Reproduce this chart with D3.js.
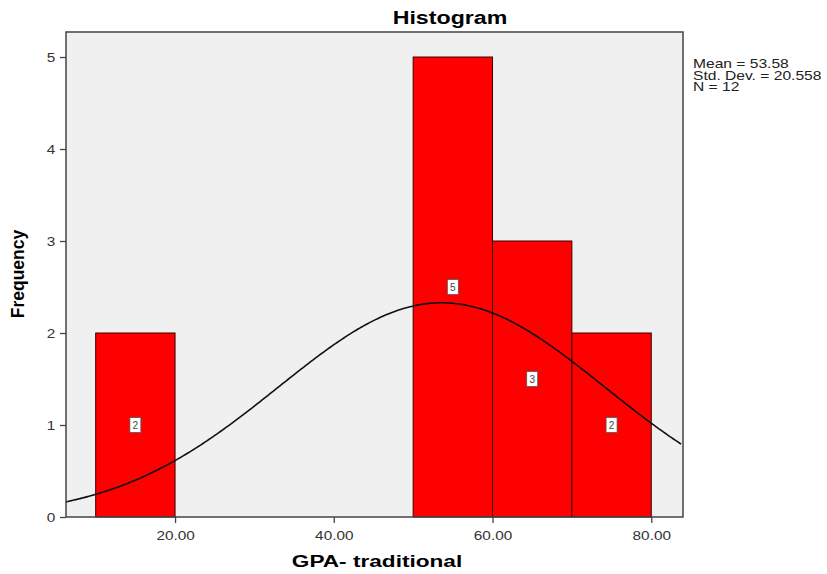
<!DOCTYPE html>
<html>
<head>
<meta charset="utf-8">
<script src="https://cdn.jsdelivr.net/npm/d3@7"></script>
<style>
  body { margin: 0; background: #fff; }
  text { font-family: "Liberation Sans", Arial, sans-serif; }
</style>
</head>
<body>
<div id="chart"></div>
<script>
// histogram bins and counts
const binStarts = [10, 50, 60, 70];
const binWidth = 10;
const counts = [2, 5, 3, 2];
const xTicks = [20, 40, 60, 80];
const yTicks = [0, 1, 2, 3, 4, 5];
const statLines = ['Mean = 53.58', 'Std. Dev. = 20.558', 'N = 12'];
const mean = 53.58, sd = 20.558, n = 12;

const width = 827, height = 574;
const margins = { top: 32, right: 144, bottom: 57, left: 66 };
const innerWidth = width - margins.left - margins.right;
const innerHeight = height - margins.top - margins.bottom;

const svg = d3.select('#chart').append('svg')
  .attr('width', width).attr('height', height);

const g = svg.append('g')
  .attr('transform', `translate(${margins.left},${margins.top})`);

const x = d3.scaleLinear().domain([6.26, 84]).range([0, innerWidth]);
const y = d3.scaleLinear().domain([0, 5.272]).range([innerHeight, 0]);

// plot background
g.append('rect')
  .attr('width', innerWidth).attr('height', innerHeight)
  .attr('fill', '#f0f0f0');

// bars
const bins = binStarts.map((s, i) => ({ x0: s, x1: s + binWidth, c: counts[i] }));
g.selectAll('.bar').data(bins).enter().append('rect')
  .attr('class', 'bar')
  .attr('x', d => x(d.x0))
  .attr('y', d => y(d.c))
  .attr('width', d => x(d.x1) - x(d.x0))
  .attr('height', d => y(0) - y(d.c))
  .attr('fill', '#ff0000')
  .attr('stroke', '#3a0000')
  .attr('stroke-width', 1);

// normal curve
const curve = d3.range(6.26, 84.01, 0.25).map(v => {
  const dens = Math.exp(-0.5 * ((v - mean) / sd) ** 2) / (sd * Math.sqrt(2 * Math.PI));
  return [v, dens * n * binWidth];
});
g.append('path')
  .datum(curve)
  .attr('fill', 'none')
  .attr('stroke', '#111')
  .attr('stroke-width', 1.6)
  .attr('d', d3.line().x(d => x(d[0])).y(d => y(d[1])).curve(d3.curveBasis));

// count labels
const lab = g.selectAll('.lab').data(bins).enter().append('g')
  .attr('class', 'lab')
  .attr('transform', d => `translate(${x(d.x0 + binWidth / 2)},${y(d.c / 2)})`);
lab.append('rect')
  .attr('x', -5.5).attr('y', -7.5).attr('width', 11).attr('height', 15)
  .attr('fill', '#fff').attr('stroke', '#555').attr('stroke-width', 0.8);
lab.append('text')
  .attr('text-anchor', 'middle').attr('dy', '0.35em')
  .style('font-size', '10px').attr('fill', '#444')
  .text(d => d.c);

// frame
g.append('rect')
  .attr('width', innerWidth).attr('height', innerHeight)
  .attr('fill', 'none').attr('stroke', '#444').attr('stroke-width', 1.5);

// axes
const xAxis = g.append('g')
  .attr('transform', `translate(0,${innerHeight})`)
  .call(d3.axisBottom(x).tickValues(xTicks).tickFormat(d3.format('.2f')).tickSize(6).tickSizeOuter(0));
const yAxis = g.append('g')
  .call(d3.axisLeft(y).tickValues(yTicks).tickFormat(d3.format('d')).tickSize(6).tickSizeOuter(0));
[xAxis, yAxis].forEach(a => {
  a.select('.domain').remove();
  a.selectAll('line').attr('stroke', '#444').attr('stroke-width', 1.3);
  a.selectAll('text').style('font-size', '13px').attr('fill', '#333')
    .style('font-family', '"Liberation Sans", Arial, sans-serif')
    .attr('transform', 'scale(1.18,1)');
});
xAxis.selectAll('text').attr('dy', '1.1em');

// horizontally stretched text helper
function label(px, py, txt, size, sx, anchor) {
  return svg.append('text')
    .attr('transform', `translate(${px},${py}) scale(${sx},1)`)
    .attr('text-anchor', anchor)
    .style('font-size', size + 'px')
    .text(txt);
}

label(450, 24, 'Histogram', 19, 1.22, 'middle').style('font-weight', 'bold');
label(377, 567, 'GPA- traditional', 17, 1.33, 'middle').style('font-weight', 'bold');

svg.append('text')
  .attr('transform', `translate(24,274) rotate(-90)`)
  .attr('text-anchor', 'middle')
  .style('font-size', '17.5px').style('font-weight', 'bold')
  .text('Frequency');

statLines.forEach((t, i) => {
  label(693, 68 + i * 11.5, t, 12, 1.3, 'start').attr('fill', '#222');
});
</script>
</body>
</html>
